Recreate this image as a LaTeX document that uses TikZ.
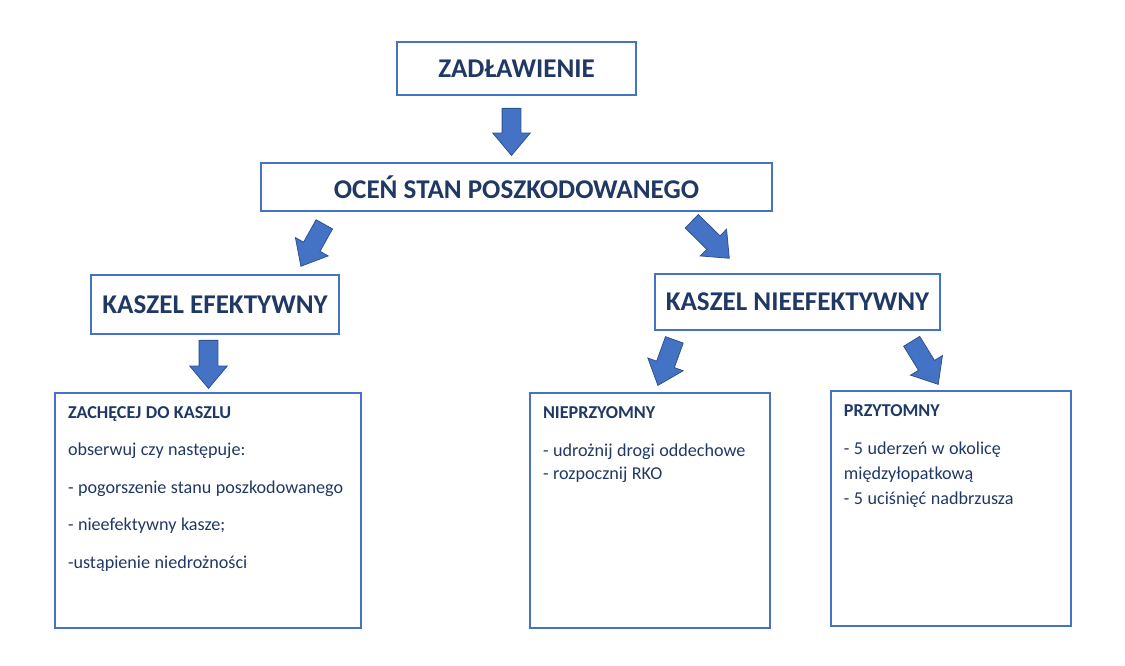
\documentclass[tikz,border=0pt]{standalone}
\usepackage{fontspec}
\setmainfont{Carlito}
\usepackage{xcolor}
\definecolor{BoxBlue}{HTML}{4472C4}
\definecolor{ArrowEdge}{HTML}{2F528F}
\definecolor{Navy}{HTML}{203864}
\usetikzlibrary{positioning,shapes.arrows}

\begin{document}
\begin{tikzpicture}[
  x=0.75pt,y=-0.75pt,
  headbox/.style={draw=BoxBlue,line width=1.1pt,outer sep=0pt,text=Navy,
    font=\fontsize{20.3}{24}\selectfont\bfseries,align=center},
  infobox/.style={draw=BoxBlue,line width=1.1pt,outer sep=0pt,text=Navy,
    inner xsep=9.75pt,inner ysep=10pt,align=left},
  blockarrow/.style={single arrow,draw=ArrowEdge,fill=BoxBlue,line width=0.6pt,
    inner xsep=0pt,inner ysep=6.75pt,single arrow head extend=7pt,
    single arrow tip angle=80,anchor=tail,minimum height=#1}
]
\useasboundingbox (0,0) rectangle (1125,666);

\node[headbox,minimum width=179.25pt,minimum height=39.75pt] (zad) at (516.5,68.5) {ZADŁAWIENIE};
\node[headbox,minimum width=383.25pt,minimum height=36pt,below=51pt of zad] (ocen) {OCEŃ STAN POSZKODOWANEGO};
\node[headbox,minimum width=186pt,minimum height=44.25pt,below=48pt of ocen,xshift=-226.1pt] (kef) {KASZEL EFEKTYWNY};
\node[headbox,minimum width=213.75pt,minimum height=42pt,below=47.25pt of ocen,xshift=210.75pt] (knie) {KASZEL NIEEFEKTYWNY};

\node[infobox,text width=210pt,below=44.25pt of kef,xshift=-5.25pt] (zach)
  {\parbox[t][156.25pt][t]{\linewidth}{\fontsize{13.6}{28.1}\selectfont
    \textbf{ZACHĘCEJ DO KASZLU}\\
    obserwuj czy następuje:\\
    - pogorszenie stanu poszkodowanego\\
    - nieefektywny kasze;\\
    -ustąpienie niedrożności}};
\node[infobox,text width=160.5pt,below=47.25pt of knie,xshift=-110.6pt] (niep)
  {\parbox[t][156.25pt][t]{\linewidth}{\fontsize{13.6}{17.5}\selectfont
    \textbf{NIEPRZYOMNY}\\[11pt]
    - udrożnij drogi oddechowe\\
    - rozpocznij RKO}};
\node[infobox,text width=160.5pt,below=45.75pt of knie,xshift=115.1pt] (przy)
  {\parbox[t][156.25pt][t]{\linewidth}{\fontsize{13.6}{18.75}\selectfont
    \textbf{PRZYTOMNY}\\[9.75pt]
    - 5 uderzeń w okolicę\\
    międzyłopatkową\\
    - 5 uciśnięć nadbrzusza}};

% block arrows between the levels
\node[blockarrow=35.25pt,rotate=-90] (arrzad) at (511.5,108) {};
\node[blockarrow=36pt,rotate=240.8] (arrkef) at (324.5,224) {};
\node[blockarrow=39.5pt,rotate=-44.6] (arrknie) at (691.5,221) {};
\node[blockarrow=36pt,rotate=-90] (arrzach) at (208.5,340) {};
\node[blockarrow=36.3pt,rotate=250.1] (arrniep) at (674.5,339.5) {};
\node[blockarrow=37.9pt,rotate=-58.4] (arrprzy) at (911.5,341) {};
\end{tikzpicture}
\end{document}
